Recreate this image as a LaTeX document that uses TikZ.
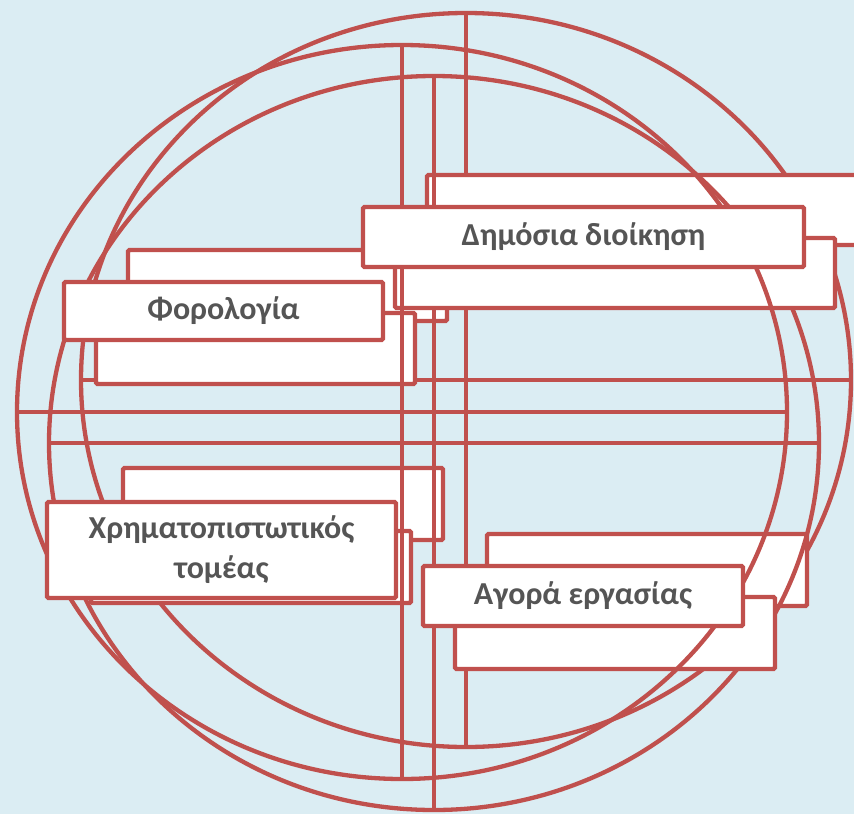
\documentclass[tikz,border=0pt]{standalone}
\usepackage{fontspec}
\setmainfont{Carlito}
\definecolor{bgc}{RGB}{219,237,243}
\definecolor{redc}{RGB}{192,80,77}
\definecolor{txtc}{RGB}{85,85,85}
\tikzset{
  ln/.style={draw=redc,line width=4.3pt},
  backbox/.style={draw=redc,fill=white,line width=4.3pt,rounded corners=1.5pt},
  textbox/.style={draw=redc,fill=white,line width=4.3pt,rounded corners=1.5pt,
    font=\bfseries\fontsize{32}{40}\selectfont,text=txtc,align=center,inner sep=0pt,outer sep=0pt}
}
\newcommand\CopyLayer[2]{%
  \begin{scope}[shift={(#1,#2)}]
    \draw[ln] (402,412) ellipse [x radius=385pt, y radius=367pt];
    \draw[ln] (402,45) -- (402,779);
    \draw[ln] (17,412) -- (787,412);
    \draw[backbox] (64,282) rectangle (383,353);
    \draw[backbox] (363,207) rectangle (803,277);
    \draw[backbox] (59,500) rectangle (379,572);
    \draw[backbox] (423,566) rectangle (743,638);
  \end{scope}}
\begin{document}
\begin{tikzpicture}[x=1pt,y=-1pt]
\useasboundingbox (0,0) rectangle (854,814);
\fill[bgc] (0,0) rectangle (854,814);
\clip (0,0) rectangle (854,814);
% back copy (upper)
\CopyLayer{64}{-32}
% middle copy (lower)
\CopyLayer{32}{31}
% front copy
\draw[ln] (402,412) ellipse [x radius=385pt, y radius=367pt];
\draw[ln] (402,45) -- (402,779);
\draw[ln] (17,412) -- (787,412);
\node[textbox,minimum width=319pt,minimum height=58pt] (phor) at (223.5,311) {Φορολογία};
\node[textbox,minimum width=441pt,minimum height=60pt] (dimos) at (583.5,237) {Δημόσια διοίκηση};
\node[textbox,minimum width=349pt,minimum height=96pt] (xrim) at (221.5,550) {Χρηματοπιστωτικός\\τομέας};
\node[textbox,minimum width=320pt,minimum height=60pt] (agora) at (583,596) {Αγορά εργασίας};
\end{tikzpicture}
\end{document}
